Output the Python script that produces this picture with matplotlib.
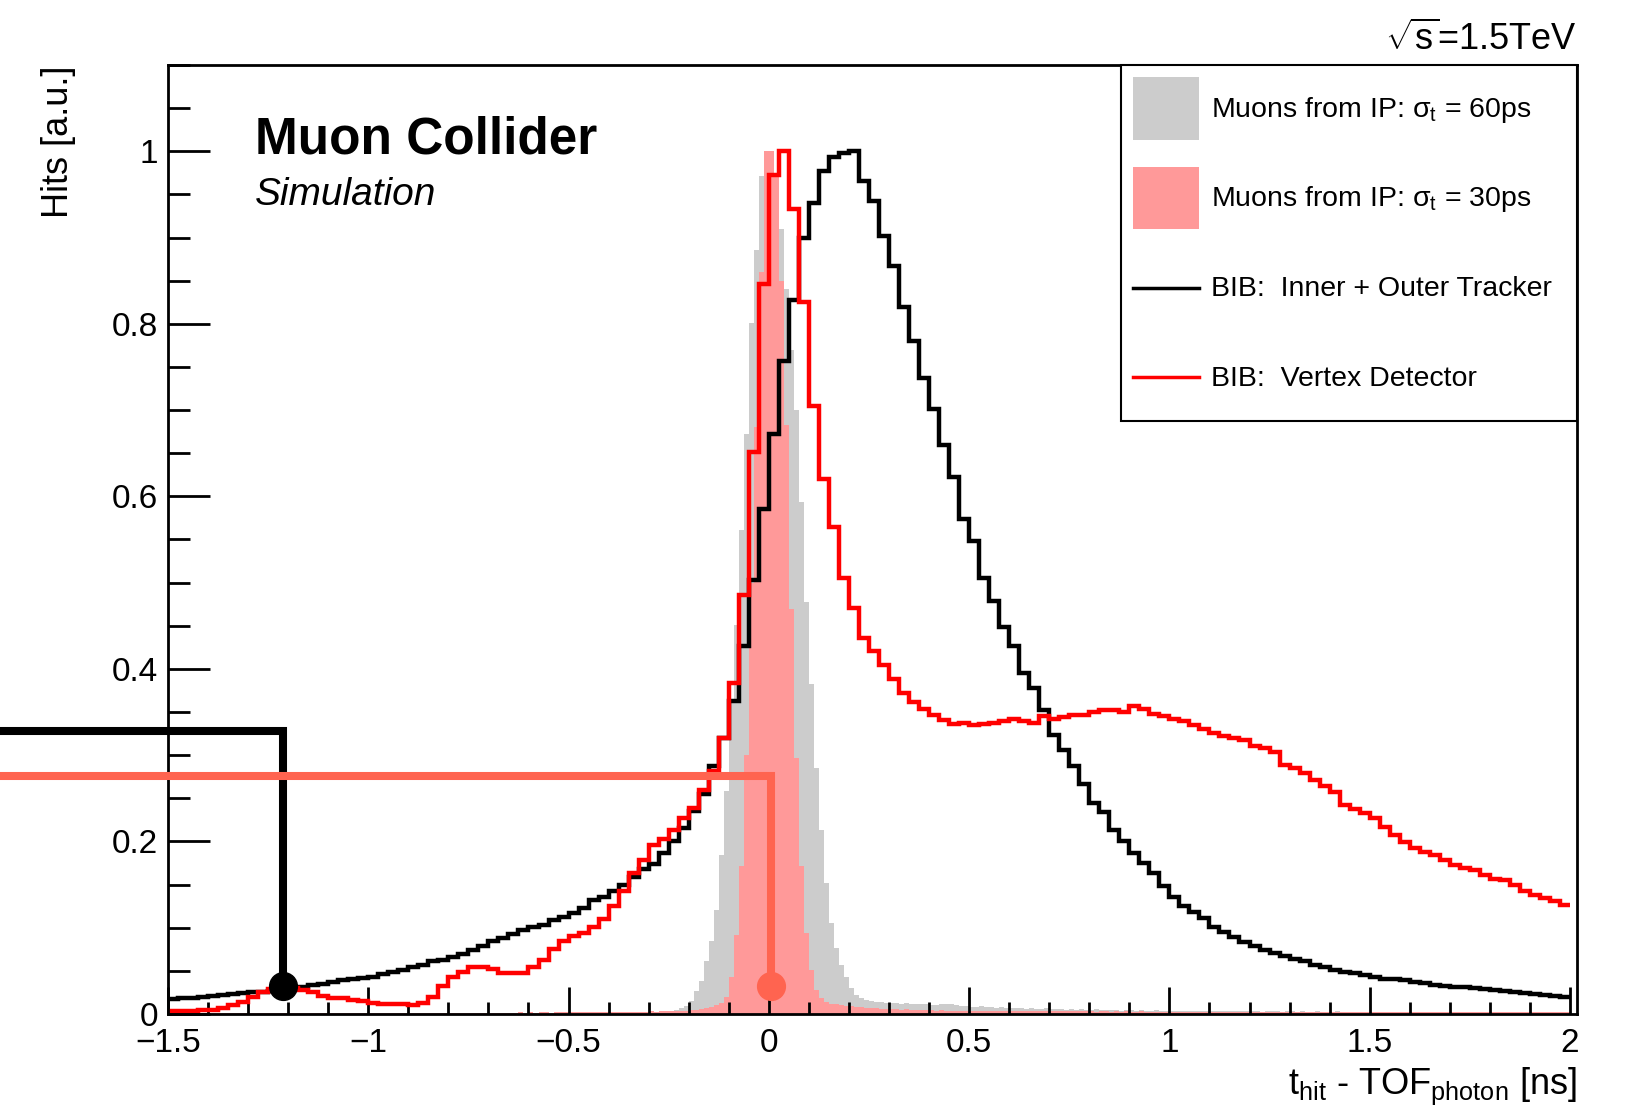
import numpy as np
import matplotlib.pyplot as plt
from matplotlib.patches import Patch
from matplotlib.lines import Line2D

plt.rcParams['font.family'] = ['Liberation Sans', 'DejaVu Sans']
plt.rcParams['mathtext.fontset'] = 'custom'
plt.rcParams['mathtext.rm'] = 'Liberation Sans'
plt.rcParams['mathtext.it'] = 'Liberation Sans:italic'
plt.rcParams['mathtext.bf'] = 'Liberation Sans:bold'

# BIB hits, 0.025 ns bins from -1.5 to 2 ns
bib_edges = np.linspace(-1.5, 2.0, 141)
bib_tracker = [
    0.017, 0.018, 0.019, 0.020, 0.021, 0.022, 0.023, 0.024, 0.025, 0.026,
    0.027, 0.028, 0.029, 0.031, 0.033, 0.035, 0.037, 0.039, 0.040, 0.042,
    0.043, 0.046, 0.049, 0.051, 0.054, 0.057, 0.061, 0.063, 0.066, 0.070,
    0.074, 0.079, 0.084, 0.088, 0.093, 0.097, 0.101, 0.103, 0.109, 0.112,
    0.117, 0.123, 0.132, 0.136, 0.143, 0.149, 0.159, 0.168, 0.174, 0.186,
    0.200, 0.215, 0.235, 0.255, 0.287, 0.320, 0.363, 0.426, 0.503, 0.585,
    0.672, 0.757, 0.828, 0.900, 0.940, 0.977, 0.993, 0.998, 1.000, 0.966,
    0.942, 0.902, 0.867, 0.819, 0.780, 0.737, 0.701, 0.659, 0.622, 0.574,
    0.548, 0.505, 0.479, 0.448, 0.427, 0.395, 0.378, 0.352, 0.323, 0.306,
    0.287, 0.266, 0.244, 0.234, 0.213, 0.201, 0.186, 0.175, 0.163, 0.148,
    0.135, 0.125, 0.118, 0.111, 0.101, 0.095, 0.089, 0.083, 0.079, 0.074,
    0.071, 0.067, 0.064, 0.061, 0.057, 0.054, 0.051, 0.049, 0.047, 0.045,
    0.043, 0.041, 0.040, 0.039, 0.037, 0.036, 0.034, 0.032, 0.031, 0.031,
    0.030, 0.029, 0.028, 0.027, 0.026, 0.024, 0.023, 0.022, 0.021, 0.020,
]
bib_vertex = [
    0.003, 0.004, 0.004, 0.005, 0.005, 0.007, 0.010, 0.014, 0.020, 0.025,
    0.029, 0.030, 0.030, 0.028, 0.025, 0.021, 0.019, 0.018, 0.016, 0.015,
    0.013, 0.012, 0.012, 0.011, 0.010, 0.013, 0.020, 0.032, 0.043, 0.049,
    0.054, 0.054, 0.052, 0.048, 0.048, 0.048, 0.055, 0.063, 0.075, 0.084,
    0.090, 0.094, 0.101, 0.110, 0.125, 0.143, 0.163, 0.179, 0.196, 0.203,
    0.213, 0.227, 0.239, 0.260, 0.282, 0.320, 0.384, 0.486, 0.651, 0.846,
    0.973, 1.000, 0.933, 0.825, 0.705, 0.620, 0.564, 0.505, 0.470, 0.436,
    0.421, 0.405, 0.388, 0.372, 0.362, 0.353, 0.346, 0.341, 0.336, 0.337,
    0.335, 0.336, 0.337, 0.340, 0.342, 0.340, 0.337, 0.345, 0.342, 0.344,
    0.347, 0.347, 0.350, 0.352, 0.352, 0.350, 0.357, 0.353, 0.348, 0.345,
    0.342, 0.340, 0.335, 0.330, 0.326, 0.322, 0.320, 0.317, 0.311, 0.308,
    0.304, 0.289, 0.285, 0.279, 0.271, 0.264, 0.257, 0.242, 0.237, 0.233,
    0.227, 0.217, 0.208, 0.199, 0.192, 0.188, 0.184, 0.179, 0.173, 0.169,
    0.167, 0.161, 0.156, 0.155, 0.150, 0.143, 0.138, 0.134, 0.131, 0.126,
]

# muons from IP, 0.0125 ns bins
mu60_edges = np.linspace(-0.3, 2.0, 185)
mu_60ps = [
    0.001, 0.002, 0.002, 0.003,
    0.004, 0.005, 0.007, 0.009, 0.015, 0.027, 0.038, 0.061, 0.084, 0.120,
    0.184, 0.258, 0.360, 0.451, 0.561, 0.672, 0.801, 0.886, 0.971, 1.000,
    0.990, 0.970, 0.910, 0.840, 0.770, 0.700, 0.593, 0.478, 0.382, 0.285,
    0.213, 0.152, 0.105, 0.076, 0.057, 0.043, 0.030, 0.022, 0.018, 0.016,
    0.015, 0.014, 0.014, 0.013, 0.013, 0.013, 0.012, 0.013, 0.012, 0.012,
    0.011, 0.011, 0.010, 0.010, 0.011, 0.012, 0.011, 0.010, 0.009, 0.009,
    0.008, 0.008, 0.009, 0.008, 0.008, 0.007, 0.008, 0.007, 0.007, 0.007,
    0.007, 0.006, 0.007, 0.006, 0.006, 0.007, 0.006, 0.006, 0.006, 0.005,
    0.006, 0.005, 0.006, 0.005, 0.005, 0.006, 0.005, 0.005, 0.005, 0.005,
    0.004, 0.005, 0.005, 0.004, 0.005, 0.004, 0.004, 0.005, 0.004, 0.004,
    0.004, 0.004, 0.003, 0.004, 0.004, 0.003, 0.004, 0.003, 0.003, 0.004,
    0.003, 0.003, 0.003, 0.004, 0.003, 0.003, 0.003, 0.003, 0.002, 0.003,
    0.003, 0.003, 0.002, 0.003, 0.003, 0.002, 0.003, 0.002, 0.002, 0.003,
    0.002, 0.002, 0.002, 0.003, 0.002, 0.002, 0.002, 0.002, 0.002, 0.002,
    0.002, 0.002, 0.002, 0.001, 0.002, 0.002, 0.002, 0.001, 0.002, 0.002,
    0.001, 0.002, 0.001, 0.002, 0.001, 0.001, 0.002, 0.001, 0.001, 0.001,
    0.001, 0.001, 0.001, 0.001, 0.001, 0.001, 0.001, 0.001, 0.001, 0.001,
    0.001, 0.001, 0.001, 0.001, 0.001, 0.001, 0.001, 0.001, 0.001, 0.001,
]
mu30_edges = np.linspace(-1.5, 2.0, 281)
mu_30ps = [
    0.001, 0.001, 0.001, 0.001, 0.001, 0.001, 0.001, 0.001, 0.001, 0.001,
    0.001, 0.001, 0.001, 0.001, 0.001, 0.001, 0.001, 0.001, 0.001, 0.001,
    0.001, 0.001, 0.001, 0.001, 0.001, 0.001, 0.001, 0.001, 0.001, 0.001,
    0.001, 0.001, 0.001, 0.001, 0.001, 0.001, 0.001, 0.001, 0.001, 0.001,
    0.001, 0.001, 0.001, 0.001, 0.001, 0.001, 0.001, 0.001, 0.001, 0.001,
    0.001, 0.001, 0.001, 0.001, 0.001, 0.001, 0.001, 0.001, 0.001, 0.001,
    0.001, 0.001, 0.001, 0.001, 0.001, 0.001, 0.001, 0.001, 0.001, 0.001,
    0.002, 0.001, 0.002, 0.001, 0.002, 0.002, 0.001, 0.002, 0.002, 0.002,
    0.002, 0.002, 0.002, 0.002, 0.002, 0.002, 0.002, 0.002, 0.002, 0.002,
    0.002, 0.002, 0.002, 0.002, 0.002, 0.002, 0.003, 0.002, 0.003, 0.003,
    0.003, 0.003, 0.004, 0.004, 0.005, 0.005, 0.006, 0.007, 0.008, 0.010,
    0.013, 0.020, 0.043, 0.092, 0.171, 0.300, 0.500, 0.680, 0.860, 1.000,
    1.000, 0.970, 0.850, 0.683, 0.469, 0.297, 0.171, 0.094, 0.051, 0.028,
    0.018, 0.014, 0.012, 0.011, 0.010, 0.009, 0.009, 0.008, 0.008, 0.007,
    0.007, 0.007, 0.006, 0.006, 0.006, 0.006, 0.005, 0.006, 0.005, 0.005,
    0.005, 0.005, 0.005, 0.004, 0.005, 0.004, 0.004, 0.004, 0.004, 0.004,
    0.004, 0.004, 0.004, 0.004, 0.003, 0.004, 0.003, 0.004, 0.003, 0.003,
    0.003, 0.003, 0.003, 0.003, 0.003, 0.003, 0.003, 0.003, 0.003, 0.003,
    0.003, 0.003, 0.003, 0.003, 0.003, 0.002, 0.003, 0.003, 0.002, 0.003,
    0.002, 0.003, 0.002, 0.002, 0.003, 0.002, 0.002, 0.002, 0.002, 0.002,
    0.002, 0.002, 0.002, 0.002, 0.002, 0.002, 0.002, 0.002, 0.002, 0.002,
    0.002, 0.002, 0.002, 0.002, 0.002, 0.002, 0.002, 0.002, 0.002, 0.002,
    0.002, 0.002, 0.002, 0.002, 0.002, 0.002, 0.002, 0.002, 0.002, 0.002,
    0.002, 0.002, 0.002, 0.002, 0.002, 0.002, 0.002, 0.002, 0.002, 0.002,
    0.002, 0.002, 0.002, 0.002, 0.002, 0.002, 0.002, 0.002, 0.002, 0.002,
    0.002, 0.002, 0.002, 0.002, 0.002, 0.002, 0.002, 0.002, 0.002, 0.002,
    0.002, 0.002, 0.002, 0.002, 0.002, 0.002, 0.002, 0.002, 0.002, 0.002,
    0.002, 0.002, 0.002, 0.002, 0.002, 0.002, 0.002, 0.002, 0.002, 0.002,
]

# timing-window markers (t, height) and dot height
bib_cut = (-1.212, 0.328)
mu_cut = (0.005, 0.276)
cut_dot_h = 0.032

legend_labels = [
    r"Muons from IP: $\mathregular{\sigma_{t}}$ = 60ps",
    r"Muons from IP: $\mathregular{\sigma_{t}}$ = 30ps",
    "BIB:  Inner + Outer Tracker",
    "BIB:  Vertex Detector",
]
xtick_vals = [-1.5, -1, -0.5, 0, 0.5, 1, 1.5, 2]
xtick_text = ["\u22121.5", "\u22121", "\u22120.5", "0", "0.5", "1", "1.5", "2"]
ytick_vals = [0, 0.2, 0.4, 0.6, 0.8, 1.0]
ytick_text = ["0", "0.2", "0.4", "0.6", "0.8", "1"]

gray = "#cccccc"
pink = "#ff9999"
coral = "#ff6450"

fig = plt.figure(figsize=(16.34, 11.09), dpi=100)
ax = fig.add_axes([0.1028, 0.0857, 0.8623, 0.8557])

ax.stairs(mu_60ps, mu60_edges, fill=True, color=gray, zorder=1)
ax.stairs(mu_30ps, mu30_edges, fill=True, color=pink, zorder=1.1)
ax.stairs(bib_tracker, bib_edges, color="black", lw=3.2, baseline=None, zorder=2)
ax.stairs(bib_vertex, bib_edges, color="red", lw=3.2, baseline=None, zorder=2.1)

ax.set_xlim(-1.5, 2.0175)
ax.set_ylim(0, 1.1)

# lines running out to the left edge of the figure
x_left = ax.transData.inverted().transform(fig.transFigure.transform((0, 0)))[0]
ax.plot([x_left, bib_cut[0], bib_cut[0]], [bib_cut[1], bib_cut[1], cut_dot_h],
        color="black", lw=5.8, clip_on=False, solid_joinstyle="miter", zorder=6)
ax.plot(bib_cut[0], cut_dot_h, "o", ms=20, color="black", clip_on=False, zorder=6)
ax.plot([x_left, mu_cut[0], mu_cut[0]], [mu_cut[1], mu_cut[1], cut_dot_h],
        color=coral, lw=5.8, clip_on=False, solid_joinstyle="miter", zorder=7)
ax.plot(mu_cut[0], cut_dot_h, "o", ms=20, color=coral, clip_on=False, zorder=7)

ax.set_xticks(xtick_vals, xtick_text)
ax.set_xticks(np.arange(-1.5, 2.01, 0.1), minor=True)
ax.set_yticks(ytick_vals, ytick_text)
ax.set_yticks(np.arange(0, 1.101, 0.05), minor=True)
ax.tick_params(axis="both", which="both", direction="in", width=2, labelsize=24)
ax.tick_params(axis="y", which="major", length=30, pad=7)
ax.tick_params(axis="y", which="minor", length=16)
ax.tick_params(axis="x", which="major", length=19.5, pad=10)
ax.tick_params(axis="x", which="minor", length=9)
for s in ax.spines.values():
    s.set_linewidth(2)
    s.set_zorder(5)

handles = [
    Patch(facecolor=gray, edgecolor="none"),
    Patch(facecolor=pink, edgecolor="none"),
    Line2D([], [], color="black", lw=2.5),
    Line2D([], [], color="red", lw=2.5),
]
leg_fs = 20.5
leg_hh = 3.02
leg_x0 = (1121 - 168) / (1577 - 168)
leg = ax.legend(handles, legend_labels, loc="upper right",
                bbox_to_anchor=(leg_x0, 0, 1 - leg_x0, 1), mode="expand",
                borderaxespad=0, fontsize=leg_fs, handlelength=2.31, handleheight=leg_hh,
                labelspacing=0.94, borderpad=0.42, handletextpad=0.42,
                fancybox=False, edgecolor="black", framealpha=1)
leg.get_frame().set_linewidth(1.5)
leg.set_zorder(8)
# centre the line samples on the same height as the colour boxes
descent = 0.35 * leg_fs * (leg_hh - 0.7)
for ln in leg.get_lines():
    ln.set_ydata(np.asarray(ln.get_ydata()) - descent / 2)

fig.text(255 / 1634, 1 - 154 / 1109, "Muon Collider", fontsize=37, fontweight="bold",
         ha="left", va="baseline")
fig.text(255 / 1634, 1 - 205 / 1109, "Simulation", fontsize=28, fontstyle="italic",
         ha="left", va="baseline")
fig.text(1577 / 1634, 1 - 50 / 1109, r"$\sqrt{\mathregular{s}}$=1.5TeV", fontsize=26,
         ha="right", va="baseline")
fig.text(1577 / 1634, 1 - 1094 / 1109,
         r"t$_{\mathregular{hit}}$ - TOF$_{\mathregular{photon}}$ [ns]", fontsize=26,
         ha="right", va="baseline")
fig.text(58 / 1634, 1 - 65 / 1109, "Hits [a.u.]", fontsize=26, rotation=90,
         ha="center", va="top")

fig.savefig("out.png", dpi=100)
